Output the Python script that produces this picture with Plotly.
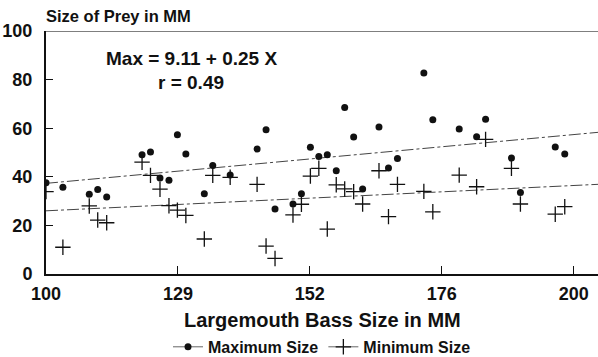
import plotly.graph_objects as go

# Bass size positions on the (evenly spaced) x axis
bass_x = [100, 103.2, 108.2, 109.8, 111.5, 118.2, 119.8, 121.6, 123.3, 124.9,
          126.5, 130, 131.6, 134.9, 140, 141.7, 143.4, 146.8, 148.4, 150.1,
          151.7, 153.3, 155, 156.6, 158.3, 160, 163.1, 164.9, 166.6, 171.6,
          173.3, 178.3, 181.6, 183.3, 188.2, 189.9, 196.5, 198.3]
max_size = [37.6, 35.7, 32.8, 34.8, 31.7, 49.1, 50.2, 39.5, 38.6, 57.3,
            49.4, 33.0, 44.6, 40.7, 51.4, 59.4, 26.7, 28.8, 33.0, 52.2,
            48.4, 49.1, 42.5, 68.5, 56.4, 35.0, 60.5, 43.6, 47.5, 82.7,
            63.5, 59.7, 56.5, 63.7, 47.7, 33.5, 52.3, 49.4]
min_size = [33.9, 11.0, 28.0, 22.2, 21.1, 46.0, 40.6, 34.9, 28.1, 26.3,
            24.1, 14.4, 40.6, 39.8, 36.9, 11.5, 6.4, 24.3, 28.7, 40.3,
            43.5, 18.5, 36.7, 35.0, 33.9, 28.8, 42.5, 23.6, 36.9, 34.0,
            25.6, 40.7, 35.9, 55.4, 43.5, 28.8, 24.6, 27.7]

fit_x = [100, 204.6]
max_fit = [37.3, 58.3]
min_fit = [26.0, 36.9]

tick_pos = [100, 125, 150, 175, 200]
tick_text = ["100", "129", "152", "176", "200"]
y_ticks = [0, 20, 40, 60, 80, 100]

FONT = "Liberation Sans"
INK = "#111111"
dash = "12px,3px,3px,3px"

cross = dict(symbol="cross-thin-open", size=11, color=INK, line=dict(color=INK, width=1.3))
dot = dict(symbol="circle", size=7, color=INK)

fig = go.Figure()
fig.add_trace(go.Scatter(x=fit_x, y=max_fit, mode="lines", showlegend=False,
                         line=dict(color="#444", width=1, dash=dash), hoverinfo="skip"))
fig.add_trace(go.Scatter(x=fit_x, y=min_fit, mode="lines", showlegend=False,
                         line=dict(color="#444", width=1, dash=dash), hoverinfo="skip"))
fig.add_trace(go.Scatter(x=bass_x, y=max_size, mode="markers", showlegend=False, marker=dot))
fig.add_trace(go.Scatter(x=bass_x, y=min_size, mode="markers", showlegend=False, marker=cross))
# legend entries
fig.add_trace(go.Scatter(x=[None], y=[None], mode="lines+markers", name="Maximum Size",
                         line=dict(color="#666", width=1), marker=dot))
fig.add_trace(go.Scatter(x=[None], y=[None], mode="lines+markers", name="Minimum Size",
                         line=dict(color="#666", width=1), marker=cross))

fig.add_shape(type="line", xref="paper", yref="y", x0=0, x1=1, y0=100, y1=100,
              line=dict(color="#555", width=1.5))

fig.add_annotation(x=127.5, y=88.5, text="Max = 9.11 + 0.25 X", showarrow=False,
                   font=dict(family=FONT, size=19, color=INK, weight="bold"))
fig.add_annotation(x=127.5, y=79, text="r = 0.49", showarrow=False,
                   font=dict(family=FONT, size=19, color=INK, weight="bold"))
fig.add_annotation(xref="paper", yref="paper", x=0, y=1, xanchor="left", yanchor="middle",
                   xshift=-2, yshift=15, text="Size of Prey in MM", showarrow=False,
                   font=dict(family=FONT, size=16.5, color=INK, weight="bold"))
fig.add_annotation(xref="paper", yref="paper", x=0.5, y=0, xanchor="center", yanchor="middle",
                   yshift=-46, text="Largemouth Bass Size in MM", showarrow=False,
                   font=dict(family=FONT, size=20, color=INK, weight="bold"))

fig.update_layout(
    width=598, height=357,
    margin=dict(l=46, r=0, t=31, b=83, autoexpand=False),
    paper_bgcolor="white", plot_bgcolor="white",
    font=dict(family=FONT, color=INK),
    legend=dict(orientation="h", x=0.5, xanchor="center", y=-0.30, yanchor="middle",
                font=dict(family=FONT, size=16, color=INK, weight="bold"),
                itemwidth=30, bgcolor="rgba(0,0,0,0)"),
)
fig.update_xaxes(range=[100, 204.6], tickmode="array", tickvals=tick_pos, ticktext=tick_text,
                 showgrid=False, zeroline=False, showline=True, linecolor=INK, linewidth=2,
                 ticks="inside", ticklen=8, tickcolor=INK, tickwidth=1, ticklabelstandoff=2,
                 automargin=False,
                 tickfont=dict(family=FONT, size=18, color=INK, weight="bold"))
fig.update_yaxes(range=[0, 100], tickmode="array", tickvals=y_ticks,
                 showgrid=False, zeroline=False, showline=True, linecolor=INK, linewidth=2,
                 ticks="inside", ticklen=7, tickcolor=INK, tickwidth=1, ticklabelstandoff=8,
                 automargin=False,
                 tickfont=dict(family=FONT, size=18, color=INK, weight="bold"))

fig.write_html("out.html", config={"displayModeBar": False},
               post_script="document.body.style.margin='0';")
